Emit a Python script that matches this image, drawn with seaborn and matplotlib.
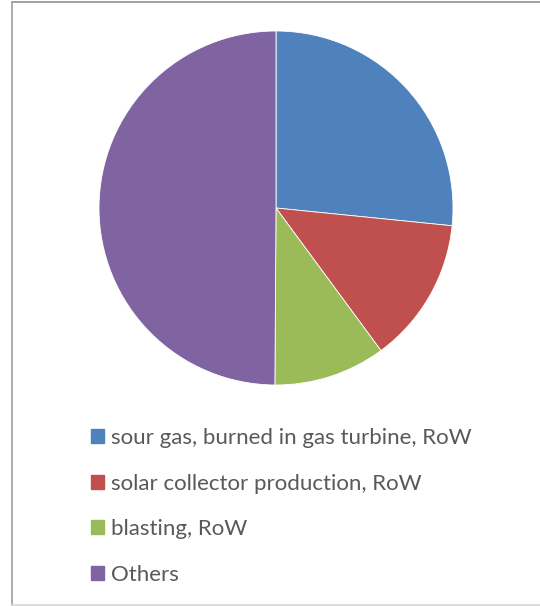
import matplotlib
matplotlib.use("Agg")
import matplotlib.pyplot as plt
import matplotlib.patches as mpatches
from matplotlib.lines import Line2D
import seaborn as sns

labels = ["sour gas, burned in gas turbine, RoW",
          "solar collector production, RoW",
          "blasting, RoW",
          "Others"]
shares = [26.6, 13.3, 10.2, 49.9]
colors = ["#4F81BD", "#C0504D", "#9BBB59", "#8064A2"]

sns.set_theme(style="white")
plt.rcParams['font.family'] = ['Lato', 'DejaVu Sans']

W, H = 540, 606
fig = plt.figure(figsize=(W / 100, H / 100), dpi=100)

# outer chart frame (right side is cut off in the original)
fx0, fy_top, fy_bot = 11.5 / W, 1 - 2 / H, 1 - 604.5 / H
fig.add_artist(Line2D([fx0, 1], [fy_top, fy_top], transform=fig.transFigure,
                      color="#9a9a9a", linewidth=1.3))
fig.add_artist(Line2D([fx0, fx0], [fy_top, fy_bot], transform=fig.transFigure,
                      color="#a6a6a6", linewidth=1.3))
fig.add_artist(Line2D([fx0, 1], [fy_bot, fy_bot], transform=fig.transFigure,
                      color="#d9d9d9", linewidth=1.3))

cx, cy, r = 276, 208, 177
ax = fig.add_axes([(cx - r) / W, 1 - (cy + r) / H, 2 * r / W, 2 * r / H])
wedges, _ = ax.pie(shares, colors=colors, startangle=90, counterclock=False,
                   radius=1, wedgeprops=dict(edgecolor="white", linewidth=0.6))
ax.set_xlim(-1, 1)
ax.set_ylim(-1, 1)
ax.set_aspect("equal")
ax.axis("off")

handles = [mpatches.Patch(color=c) for c in colors]
leg = fig.legend(handles, labels, loc="upper left",
                 bbox_to_anchor=(91 / W, 1 - 428 / H), frameon=False,
                 fontsize=16, handlelength=0.6, handleheight=0.6,
                 handletextpad=0.3, labelspacing=1.15, borderaxespad=0,
                 borderpad=0)
for t in leg.get_texts():
    t.set_color("#595959")

fig.savefig("out.png", dpi=100)
